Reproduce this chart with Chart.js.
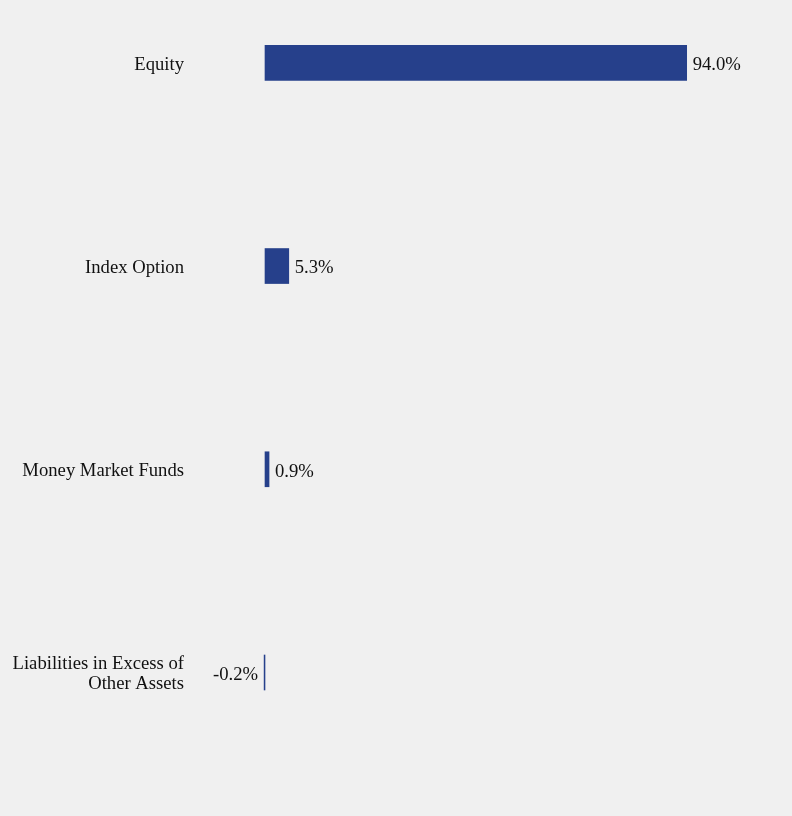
<!DOCTYPE html>
<html>
<head>
<meta charset="utf-8">
<script src="https://cdn.jsdelivr.net/npm/chart.js@4"></script>
<style>
  html, body { margin: 0; padding: 0; background: #f0f0f0; }
  #wrap { width: 792px; height: 816px; position: relative; }
</style>
</head>
<body>
<div id="wrap"><canvas id="allocation-chart"></canvas></div>
<script>
// categories and values (% of net assets)
const categories = [
    'Equity',
    'Index Option',
    'Money Market Funds',
    ['Liabilities in Excess of', 'Other Assets']
];
const values = [94.0, 5.3, 0.9, -0.2];

const barColor = '#26408b';
const fontFamily = '"Liberation Serif", "Times New Roman", serif';

// value labels next to bar ends
const valueLabels = {
    id: 'valueLabels',
    afterDatasetsDraw(chart) {
        const c = chart.ctx;
        const meta = chart.getDatasetMeta(0);
        c.save();
        c.font = '18.67px ' + fontFamily;
        c.fillStyle = '#111';
        c.textBaseline = 'middle';
        meta.data.forEach((bar, i) => {
            const v = values[i];
            const txt = v.toFixed(1) + '%';
            if (v >= 0) {
                c.textAlign = 'left';
                c.fillText(txt, bar.x + 6, bar.y + 2.5);
            } else {
                c.textAlign = 'right';
                c.fillText(txt, bar.x - 6, bar.y + 2.5);
            }
        });
        c.restore();
    }
};

const ctx = document.getElementById('allocation-chart').getContext('2d');
const myChart = new Chart(ctx, {
    type: 'bar',
    data: {
        labels: categories,
        datasets: [{
            data: values,
            backgroundColor: barColor,
            borderWidth: 0,
            barThickness: 35,
            clip: false
        }]
    },
    options: {
        indexAxis: 'y',
        responsive: true,
        maintainAspectRatio: false,
        animation: false,
        devicePixelRatio: 1,
        layout: {
            padding: { left: 0, right: 78.4, top: 62.8, bottom: 143.5 }
        },
        plugins: {
            legend: { display: false },
            tooltip: { enabled: false }
        },
        scales: {
            x: {
                display: false,
                min: -2,
                max: 100
            },
            y: {
                offset: false,
                grid: { display: false },
                border: { display: false },
                ticks: {
                    padding: 64,
                    labelOffset: 2,
                    color: '#111',
                    font: { family: fontFamily, size: 18.67, lineHeight: 1.07 }
                },
                afterFit(scale) {
                    scale.width = 256.03;
                    // no extra room for first/last label, the layout padding handles it
                    scale.paddingTop = 0;
                    scale.paddingBottom = 0;
                }
            }
        }
    },
    plugins: [valueLabels]
});
</script>
</body>
</html>
